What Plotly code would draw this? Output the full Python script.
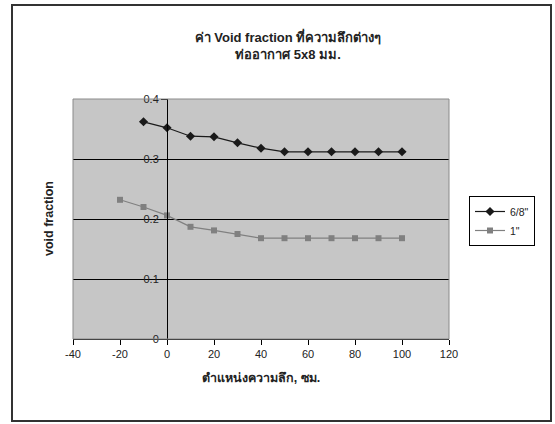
import plotly.graph_objects as go

x_68 = [-10, 0, 10, 20, 30, 40, 50, 60, 70, 80, 90, 100]
y_68 = [0.362, 0.352, 0.338, 0.337, 0.327, 0.318, 0.312, 0.312, 0.312, 0.312, 0.312, 0.312]
x_1 = [-20, -10, 0, 10, 20, 30, 40, 50, 60, 70, 80, 90, 100]
y_1 = [0.232, 0.220, 0.206, 0.187, 0.181, 0.175, 0.168, 0.168, 0.168, 0.168, 0.168, 0.168, 0.168]
x_ticks = [-40, -20, 0, 20, 40, 60, 80, 100, 120]
x_ticktext = ["-40", "-20", "0", "20", "40", "60", "80", "100", "120"]
y_ticks = [0, 0.1, 0.2, 0.3, 0.4]
y_ticktext = ["0", "0.1", "0.2", "0.3", "0.4"]

FONT = "Liberation Sans, Arial, Helvetica, sans-serif"

fig = go.Figure()
fig.add_trace(go.Scatter(x=x_68, y=y_68, name='6/8"', mode="lines+markers",
                         line=dict(color="#1a1a1a", width=1.2),
                         marker=dict(symbol="diamond", size=7, color="#1a1a1a")))
fig.add_trace(go.Scatter(x=x_1, y=y_1, name='1"', mode="lines+markers",
                         line=dict(color="#808080", width=1.2),
                         marker=dict(symbol="square", size=6, color="#808080")))

W, H = 555, 424
L, R, T, B = 73, 106, 99, 85
pw, ph = W - L - R, H - T - B

def px2paper_x(p):
    return (p - L) / pw

def px2paper_y(p):
    return (H - B - p) / ph

fig.update_layout(
    width=W, height=H,
    margin=dict(l=L, r=R, t=T, b=B),
    paper_bgcolor="white",
    plot_bgcolor="#c6c6c6",
    font=dict(family=FONT, size=11, color="#222"),
    title=dict(text="<b>ค่า Void fraction ที่ความลึกต่างๆ<br>ท่ออากาศ 5x8 มม.</b>",
               x=288 / W, xanchor="center",
               y=1 - 42 / H, yanchor="top",
               font=dict(family=FONT, size=13, color="#222")),
    xaxis=dict(range=[-40, 120], tickvals=x_ticks, ticktext=x_ticktext,
               showgrid=False, zeroline=False,
               showline=True, linecolor="black", linewidth=1,
               ticks="outside", ticklen=5, tickcolor="black",
               tickfont=dict(size=11), anchor="y",
               title=dict(text="<b>ตำแหน่งความลึก, ซม.</b>", standoff=14,
                          font=dict(size=12.5))),
    yaxis=dict(range=[0, 0.4], tickvals=y_ticks, ticktext=y_ticktext,
               showgrid=True, gridcolor="black", gridwidth=1, zeroline=False,
               showline=True, linecolor="black", linewidth=1,
               ticks="outside", ticklen=6, tickcolor="black",
               anchor="free", position=0.25,
               tickfont=dict(size=11)),
    legend=dict(x=px2paper_x(469), y=px2paper_y(196), xanchor="left", yanchor="top",
                bordercolor="black", borderwidth=1, bgcolor="white",
                font=dict(size=10.5), tracegroupgap=2, itemwidth=30),
    showlegend=True,
)

shapes = [
    dict(type="rect", xref="paper", yref="paper", x0=0, x1=1, y0=0, y1=1,
         line=dict(color="#8a8a8a", width=1), layer="above"),
    dict(type="rect", xref="paper", yref="paper",
         x0=px2paper_x(12), x1=px2paper_x(551), y0=px2paper_y(421), y1=px2paper_y(5),
         line=dict(color="#333333", width=2)),
]
fig.update_layout(shapes=shapes)

fig.add_annotation(text="<b>void fraction</b>", xref="paper", yref="paper",
                   x=px2paper_x(40), y=0.5, textangle=-90, showarrow=False,
                   font=dict(size=12.5, family=FONT, color="#222"))

fig.write_html("out.html")
